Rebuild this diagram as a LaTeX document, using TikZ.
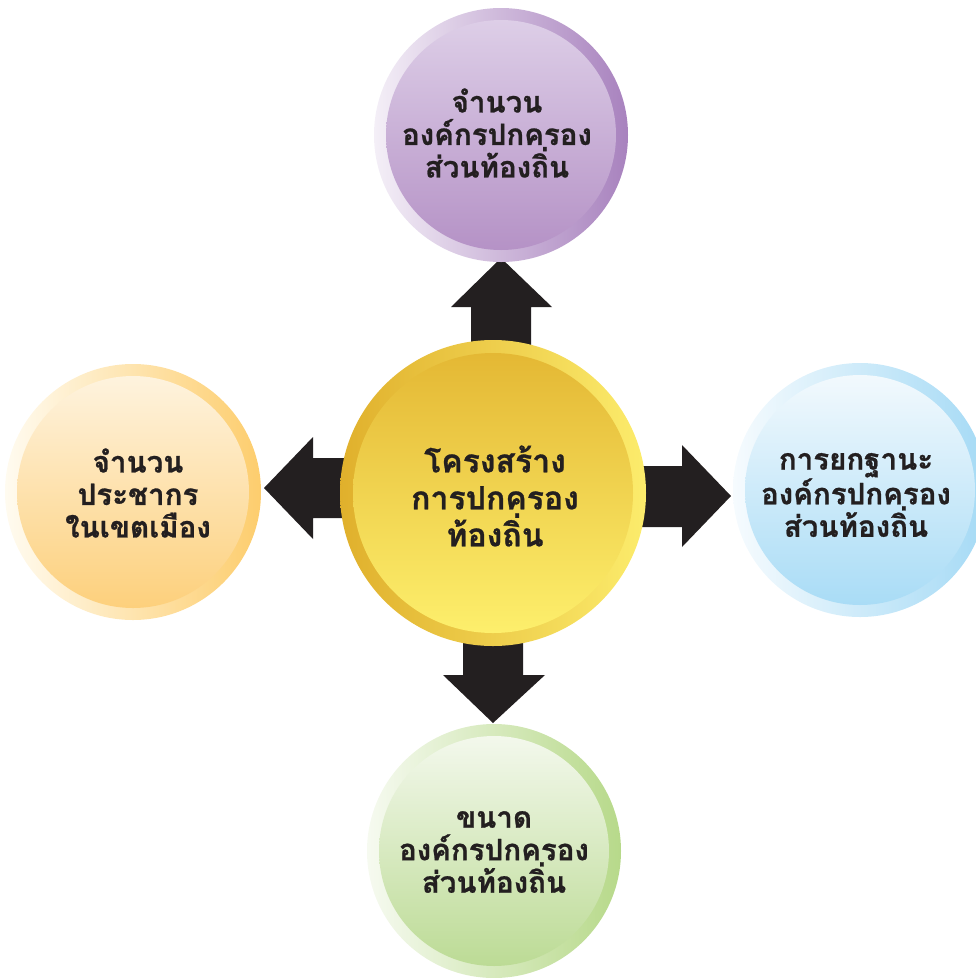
\documentclass[tikz,border=0pt]{standalone}
\usepackage{fontspec}
\newfontfamily\thaifont[Script=Thai,BoldFeatures={FakeBold=0.8}]{Loma}
\begin{document}
\begin{tikzpicture}[x=1pt,y=-1pt,
  arr/.style={fill=arrowc,draw=none},
  lbl/.style={align=center,font=\thaifont\bfseries\fontsize{29.5}{32.5}\selectfont,text=txt,inner sep=0pt},
  clbl/.style={align=center,font=\thaifont\bfseries\fontsize{32}{37}\selectfont,text=txt,inner sep=0pt}]
\definecolor{arrowc}{HTML}{231F20}
\definecolor{txt}{HTML}{231F20}
\useasboundingbox (0,0) rectangle (976,978);
\clip (0,0) rectangle (976,978);
% centres
\coordinate (C) at (493,493);
\coordinate (T) at (501,135);
\coordinate (L) at (133,492);
\coordinate (R) at (860,490);
\coordinate (B) at (494,851);
% block arrows
\fill[arr] (471,360) -- (471,307) -- (451,307) -- (501,258) -- (552,307) -- (531,307) -- (531,360) -- cycle;
\fill[arr] (360,458) -- (313,458) -- (313,437) -- (264,488) -- (313,539) -- (313,518) -- (360,518) -- cycle;
\fill[arr] (625,466) -- (682,466) -- (682,445) -- (731,496) -- (682,547) -- (682,527) -- (625,527) -- cycle;
\fill[arr] (463,630) -- (463,675) -- (443,675) -- (493,723) -- (545,675) -- (523,675) -- (523,630) -- cycle;
% circles
\shade[left color={rgb,255:red,244;green,239;blue,247},right color={rgb,255:red,168;green,130;blue,190}] (T) circle (127);
\shade[top color={rgb,255:red,221;green,206;blue,231},bottom color={rgb,255:red,181;green,146;blue,198}] (T) circle (115);
\shade[left color={rgb,255:red,255;green,251;blue,240},right color={rgb,255:red,253;green,205;blue,109}] (L) circle (128);
\shade[top color={rgb,255:red,254;green,243;blue,222},bottom color={rgb,255:red,253;green,208;blue,124}] (L) circle (116);
\shade[left color={rgb,255:red,246;green,251;blue,254},right color={rgb,255:red,165;green,218;blue,245}] (R) circle (127);
\shade[top color={rgb,255:red,242;green,249;blue,253},bottom color={rgb,255:red,169;green,220;blue,246}] (R) circle (115);
\shade[left color={rgb,255:red,246;green,250;blue,240},right color={rgb,255:red,183;green,217;blue,138}] (B) circle (127);
\shade[top color={rgb,255:red,243;green,248;blue,236},bottom color={rgb,255:red,188;green,219;blue,149}] (B) circle (115);
\shade[left color={rgb,255:red,224;green,176;blue,44},right color={rgb,255:red,252;green,236;blue,108}] (C) circle (153);
\shade[top color={rgb,255:red,228;green,184;blue,52},bottom color={rgb,255:red,253;green,239;blue,108}] (C) circle (140);
% labels
\node[lbl] (tl) at (497,133) {จำนวน\\องค์กรปกครอง\\ส่วนท้องถิ่น};
\node[lbl] (ll) at (138,493) {จำนวน\\ประชากร\\ในเขตเมือง};
\node[lbl] (rl) at (856,495) {การยกฐานะ\\องค์กรปกครอง\\ส่วนท้องถิ่น};
\node[lbl] (bl) at (494,852) {ขนาด\\องค์กรปกครอง\\ส่วนท้องถิ่น};
\node[clbl] (cl) at (495,496) {โครงสร้าง\\การปกครอง\\ท้องถิ่น};
\end{tikzpicture}
\end{document}
